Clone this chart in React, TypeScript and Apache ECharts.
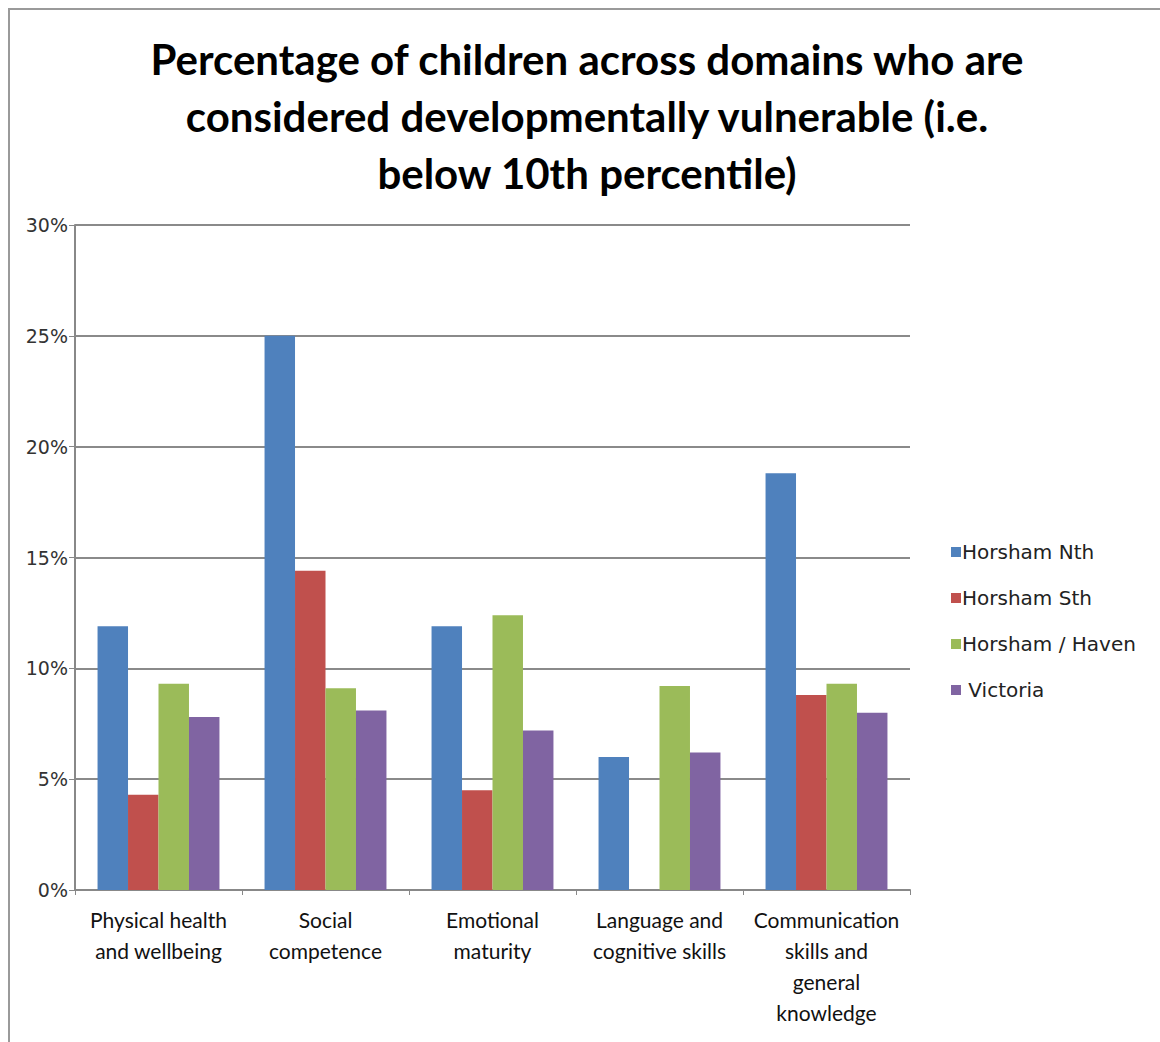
import React, { useEffect, useRef } from "react";
import * as echarts from "echarts";

const categories = [
  "Physical health\nand wellbeing",
  "Social\ncompetence",
  "Emotional\nmaturity",
  "Language and\ncognitive skills",
  "Communication\nskills and\ngeneral\nknowledge",
];
const seriesNames = ["Horsham Nth", "Horsham Sth", "Horsham / Haven", "Victoria"];
const horshamNth = [11.9, 25.0, 11.9, 6.0, 18.8];
const horshamSth = [4.3, 14.4, 4.5, 0, 8.8];
const horshamHaven = [9.3, 9.1, 12.4, 9.2, 9.3];
const victoria = [7.8, 8.1, 7.2, 6.2, 8.0];
const colors = ["#4F81BD", "#C0504D", "#9BBB59", "#8064A2"];
const titleText =
  "Percentage of children across domains who are\nconsidered developmentally vulnerable (i.e.\nbelow 10th percentile)";

export default function App() {
  const ref = useRef<HTMLDivElement>(null);
  useEffect(() => {
    if (!ref.current) return;
    const chart = echarts.init(ref.current, null, { renderer: "svg" });
    const values = [horshamNth, horshamSth, horshamHaven, victoria];
    chart.setOption({
      animation: false,
      backgroundColor: "#ffffff",
      textStyle: { fontFamily: "Lato" },
      title: {
        text: titleText,
        left: 582,
        top: 25,
        textAlign: "center",
        textStyle: {
          fontFamily: "Lato",
          fontSize: 42,
          fontWeight: "bold",
          color: "#000",
          lineHeight: 57,
        },
      },
      graphic: [
        {
          type: "rect",
          shape: { x: 9, y: 9, width: 1200, height: 1100 },
          style: { fill: "none", stroke: "#9a9a9a", lineWidth: 2 },
          silent: true,
        },
      ],
      legend: {
        orient: "vertical",
        left: 946,
        top: 537,
        itemWidth: 10,
        itemHeight: 10,
        itemGap: 26,
        icon: "rect",
        formatter: (name: string) => (name === "Victoria" ? " " + name : name),
        textStyle: {
          fontFamily: "DejaVu Sans",
          fontSize: 20,
          color: "#222",
          padding: [0, 0, 0, -4],
        },
        data: seriesNames,
      },
      grid: { left: 75, top: 225, right: 250, bottom: 152, containLabel: false },
      xAxis: {
        type: "category",
        data: categories,
        axisLine: { lineStyle: { color: "#888", width: 2 } },
        axisTick: { show: true, length: 5, lineStyle: { color: "#888" } },
        axisLabel: {
          interval: 0,
          fontFamily: "Lato",
          fontSize: 21,
          color: "#111",
          lineHeight: 31,
          margin: 14,
        },
      },
      yAxis: {
        type: "value",
        min: 0,
        max: 30,
        interval: 5,
        axisLine: { show: true, lineStyle: { color: "#888", width: 2 } },
        axisTick: { show: true, length: 6, lineStyle: { color: "#888" } },
        splitLine: { lineStyle: { color: "#8a8a8a", width: 2 } },
        axisLabel: {
          formatter: "{value}%",
          fontFamily: "DejaVu Sans",
          fontSize: 19,
          color: "#333",
          margin: 7,
        },
      },
      series: seriesNames.map((name, i) => ({
        name,
        type: "bar",
        data: values[i],
        barGap: "0%",
        barCategoryGap: "27%",
        itemStyle: { color: colors[i] },
      })),
    });
    return () => chart.dispose();
  }, []);
  return (
    <div
      ref={ref}
      style={{ position: "absolute", left: 0, top: 0, width: 1160, height: 1042 }}
    />
  );
}
